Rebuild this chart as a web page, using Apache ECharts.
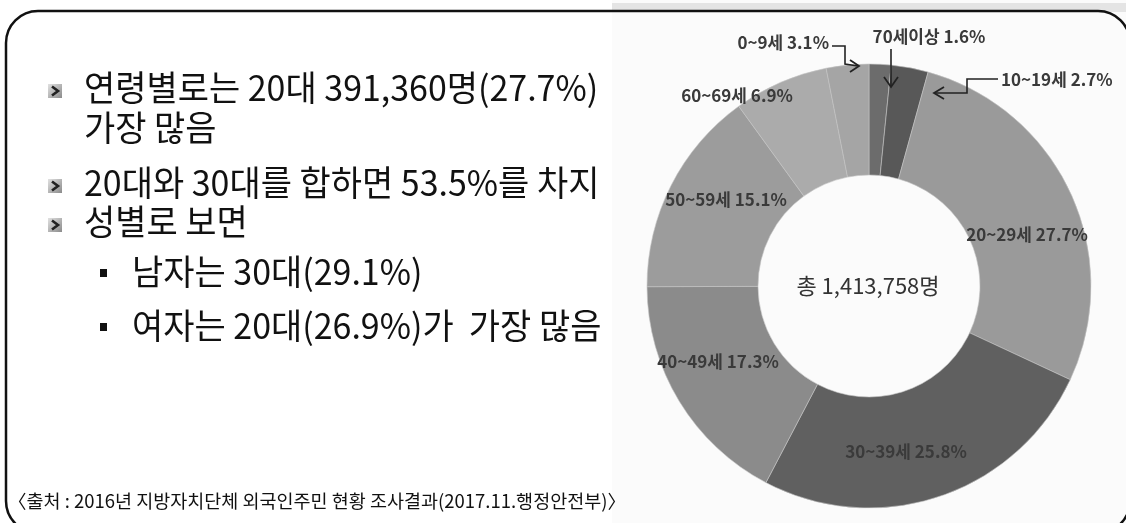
<!DOCTYPE html>
<html>
<head>
<meta charset="utf-8">
<script src="https://cdn.jsdelivr.net/npm/echarts@6/dist/echarts.min.js"></script>
<style>
  html, body { margin: 0; padding: 0; background: #fff; }
  #main { width: 1126px; height: 523px; }
</style>
</head>
<body>
<div id="main"></div>
<script>
// 연령별 외국인주민 비율 (%), 12시 방향부터 시계방향
const ages = ['70세이상', '10~19세', '20~29세', '30~39세', '40~49세', '50~59세', '60~69세', '0~9세'];
const shares = [1.6, 2.7, 27.7, 25.8, 17.3, 15.1, 6.9, 3.1];
const totalText = '총 1,413,758명';

const bullets = [
  ['연령별로는 20대 391,360명(27.7%)', '가장 많음'],
  ['20대와 30대를 합하면 53.5%를 차지'],
  ['성별로 보면']
];
const subBullets = ['남자는 30대(29.1%)', '여자는 20대(26.9%)가  가장 많음'];
const sourceText = '〈출처 : 2016년 지방자치단체 외국인주민 현황 조사결과(2017.11.행정안전부)〉';

const sliceColors = ['#6c6c6c', '#585858', '#9a9a9a', '#606060', '#8b8b8b', '#9c9c9c', '#ababab', '#a5a5a5'];
const FONT = '"Noto Sans CJK KR", "Noto Sans", sans-serif';

// where each label sits
const labelSpots = {
  '70세이상': { x: 929, y: 37, align: 'center' },
  '10~19세': { x: 1001, y: 80, align: 'left' },
  '20~29세': { x: 1027, y: 235, align: 'center' },
  '30~39세': { x: 906, y: 452, align: 'center' },
  '40~49세': { x: 718, y: 362, align: 'center' },
  '50~59세': { x: 726, y: 200, align: 'center' },
  '60~69세': { x: 737, y: 96, align: 'center' },
  '0~9세': { x: 829, y: 43, align: 'right' }
};
// bent arrows from the labels of the three thin slices
const pointers = [
  { line: [[891, 49], [891, 86]], head: [[884, 77], [891, 87], [898, 77]] },
  { line: [[998, 79], [967, 79], [967, 93], [935, 93]], head: [[944, 87], [934, 93], [944, 99]] },
  { line: [[832, 46], [845, 46], [845, 64], [858, 66]], head: [[850, 60], [859, 66], [850, 72]] }
];

const chart = echarts.init(document.getElementById('main'));

const graphics = [];
graphics.push({ type: 'rect', z: 0, shape: { x: 612, y: 0, width: 514, height: 523 }, style: { fill: '#fbfbfb' } });
graphics.push({ type: 'rect', z: 0, shape: { x: 612, y: 3, width: 514, height: 9 }, style: { fill: '#e4e4e4' } });
graphics.push({
  type: 'rect', z: 50,
  shape: { x: 6, y: 11, width: 1124, height: 522, r: 32 },
  style: { fill: null, stroke: '#111', lineWidth: 2.5 }
});

const lineTops = [[88, 128], [183], [222]];
bullets.forEach((lines, i) => {
  const y0 = lineTops[i][0] + 3;
  graphics.push({
    type: 'rect', z: 10,
    shape: { x: 48, y: y0 - 7, width: 14, height: 14 },
    style: { fill: new echarts.graphic.LinearGradient(0, 0, 1, 1, [{ offset: 0, color: '#e2e2e2' }, { offset: 1, color: '#8a8a8a' }]) }
  });
  graphics.push({
    type: 'polyline', z: 11,
    shape: { points: [[52, y0 - 4.5], [58, y0], [52, y0 + 4.5]] },
    style: { stroke: '#222', lineWidth: 2.6, fill: null }
  });
  lines.forEach((t, j) => {
    graphics.push({
      type: 'text', z: 10,
      x: 84, y: lineTops[i][j], scaleX: 0.97,
      style: { text: t, font: '35px ' + FONT, fill: '#111', verticalAlign: 'middle' }
    });
  });
});
const subTops = [272, 326];
subBullets.forEach((t, i) => {
  graphics.push({ type: 'rect', z: 10, shape: { x: 100, y: subTops[i] - 3, width: 7, height: 8 }, style: { fill: '#111' } });
  graphics.push({
    type: 'text', z: 10,
    x: 132, y: subTops[i], scaleX: 0.97,
    style: { text: t, font: '35px ' + FONT, fill: '#111', verticalAlign: 'middle' }
  });
});
graphics.push({
  type: 'text', z: 10, x: 8, y: 501,
  style: { text: sourceText, font: '18.5px ' + FONT, fill: '#111', verticalAlign: 'middle' }
});
graphics.push({
  type: 'text', z: 10, x: 868, y: 286,
  style: { text: totalText, font: '22px ' + FONT, fill: '#333', align: 'center', verticalAlign: 'middle' }
});
pointers.forEach(p => {
  graphics.push({ type: 'polyline', z: 20, shape: { points: p.line }, style: { stroke: '#222', lineWidth: 1.6, fill: null } });
  graphics.push({ type: 'polyline', z: 20, shape: { points: p.head }, style: { stroke: '#222', lineWidth: 1.8, fill: null } });
});

const option = {
  backgroundColor: '#fff',
  animation: false,
  graphic: graphics,
  series: [
    {
      type: 'pie',
      center: [869, 286],
      radius: [111, 222],
      startAngle: 90,
      clockwise: true,
      z: 5,
      data: ages.map((a, i) => ({
        name: a,
        value: shares[i],
        itemStyle: { color: sliceColors[i] }
      })),
      itemStyle: { borderColor: '#c4c4c4', borderWidth: 0.6 },
      label: {
        position: 'inside',
        formatter: p => p.name + ' ' + p.value + '%',
        fontFamily: FONT,
        fontSize: 17,
        fontWeight: 'bold',
        color: '#3a3a3a'
      },
      labelLine: { show: false },
      labelLayout: params => {
        const spot = labelSpots[ages[params.dataIndex]];
        return { x: spot.x, y: spot.y, align: spot.align, verticalAlign: 'middle' };
      }
    }
  ]
};

chart.setOption(option);
</script>
</body>
</html>
